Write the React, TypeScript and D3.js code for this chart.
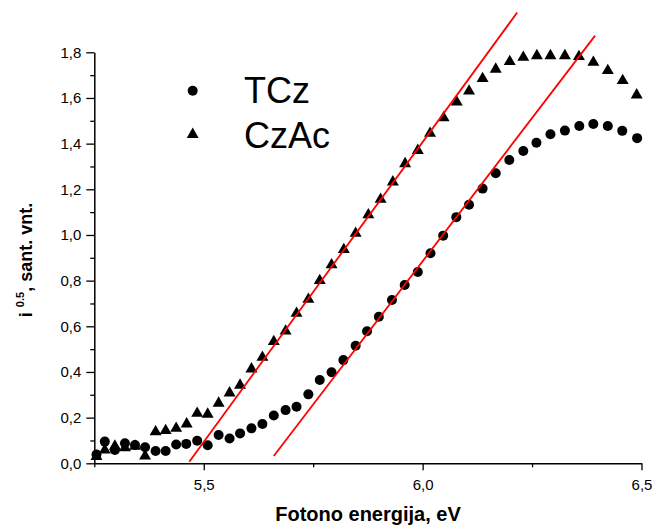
import React, { useEffect, useRef } from "react";
import * as d3 from "d3";

// TCz (circles)
const tczEnergy = [5.255, 5.274, 5.297, 5.32, 5.343, 5.366, 5.39, 5.413, 5.437, 5.46, 5.485, 5.509, 5.534, 5.559, 5.583, 5.609, 5.634, 5.66, 5.687, 5.712, 5.739, 5.765, 5.792, 5.819, 5.847, 5.873, 5.9, 5.93, 5.959, 5.989, 6.018, 6.047, 6.077, 6.106, 6.137, 6.167, 6.198, 6.23, 6.26, 6.292, 6.325, 6.358, 6.39, 6.423, 6.456, 6.49];
const tczValue = [0.038, 0.095, 0.058, 0.088, 0.08, 0.07, 0.054, 0.054, 0.082, 0.085, 0.099, 0.079, 0.124, 0.109, 0.131, 0.153, 0.172, 0.209, 0.233, 0.248, 0.302, 0.365, 0.399, 0.452, 0.515, 0.578, 0.642, 0.715, 0.781, 0.838, 0.92, 0.997, 1.078, 1.132, 1.203, 1.27, 1.328, 1.368, 1.404, 1.441, 1.457, 1.477, 1.486, 1.477, 1.456, 1.424];

// CzAc (triangles)
const czacEnergy = [5.255, 5.274, 5.297, 5.32, 5.343, 5.366, 5.39, 5.413, 5.437, 5.461, 5.485, 5.509, 5.534, 5.559, 5.583, 5.609, 5.634, 5.66, 5.687, 5.712, 5.739, 5.765, 5.792, 5.82, 5.847, 5.876, 5.904, 5.932, 5.96, 5.989, 6.017, 6.048, 6.078, 6.106, 6.137, 6.167, 6.199, 6.23, 6.261, 6.292, 6.325, 6.357, 6.39, 6.423, 6.457, 6.489];
const czacValue = [0.03, 0.058, 0.075, 0.068, 0.075, 0.032, 0.138, 0.143, 0.153, 0.172, 0.219, 0.215, 0.263, 0.308, 0.342, 0.413, 0.464, 0.533, 0.579, 0.657, 0.718, 0.8, 0.869, 0.936, 1.007, 1.088, 1.156, 1.232, 1.312, 1.37, 1.445, 1.513, 1.582, 1.63, 1.685, 1.726, 1.759, 1.778, 1.785, 1.785, 1.785, 1.781, 1.756, 1.72, 1.676, 1.613];

// linear fits (start/end in data units)
const fitStart = [[5.467, 0.007], [5.66, 0.032]];
const fitEnd = [[6.216, 1.974], [6.394, 1.873]];

const legendLabels = ["TCz", "CzAc"];
const yTicks = [0, 0.2, 0.4, 0.6, 0.8, 1.0, 1.2, 1.4, 1.6, 1.8];
const yMinor = [0.1, 0.3, 0.5, 0.7, 0.9, 1.1, 1.3, 1.5, 1.7];
const xTicks = [5.5, 6.0, 6.5];
const xMinor = [5.25, 5.75, 6.25];

const W = 653;
const H = 526;
const FONT = "'Liberation Sans', Arial, sans-serif";

const App = () => {
  const ref = useRef<SVGSVGElement>(null);

  useEffect(() => {
    const svg = d3.select(ref.current);
    svg.selectAll("*").remove();

    const x = d3.scaleLinear().domain([5.25, 6.5]).range([94.3, 641.5]);
    const y = d3.scaleLinear().domain([0, 1.8]).range([463.3, 52.3]);
    const fmt = (d: any) => d3.format(".1f")(d).replace(".", ",");

    // Y axis
    const yAxis = svg.append("g").attr("transform", `translate(${x(5.25)},0)`);
    yAxis.call(d3.axisLeft(y).tickValues(yTicks).tickFormat(fmt).tickSize(8).tickPadding(5).tickSizeOuter(0));
    yAxis.append("g").call(d3.axisLeft(y).tickValues(yMinor).tickFormat(() => "").tickSize(4).tickSizeOuter(0))
      .select(".domain").remove();

    // X axis
    const xAxis = svg.append("g").attr("transform", `translate(0,${y(0)})`);
    xAxis.call(d3.axisBottom(x).tickValues(xTicks).tickFormat(fmt).tickSize(7).tickPadding(9).tickSizeOuter(0));
    xAxis.append("g").call(d3.axisBottom(x).tickValues(xMinor).tickFormat(() => "").tickSize(4).tickSizeOuter(0))
      .select(".domain").remove();

    svg.selectAll(".domain").attr("stroke-width", 1.5);
    svg.selectAll(".tick line").attr("stroke-width", 1.3);
    svg.selectAll(".tick text").attr("font-family", FONT).attr("font-size", 15).attr("fill", "#000");

    // data
    svg.append("g")
      .selectAll("circle")
      .data(tczEnergy.map((e, i) => [e, tczValue[i]]))
      .enter()
      .append("circle")
      .attr("cx", (d) => x(d[0]))
      .attr("cy", (d) => y(d[1]))
      .attr("r", 5)
      .attr("fill", "#000");

    const tri = d3.symbol().type(d3.symbolTriangle).size(62);
    svg.append("g")
      .selectAll("path")
      .data(czacEnergy.map((e, i) => [e, czacValue[i]]))
      .enter()
      .append("path")
      .attr("d", tri)
      .attr("transform", (d) => `translate(${x(d[0])},${y(d[1])})`)
      .attr("fill", "#000");

    // fit lines
    svg.append("g")
      .selectAll("line")
      .data(fitStart.map((s, i) => [s, fitEnd[i]]))
      .enter()
      .append("line")
      .attr("x1", (d) => x(d[0][0]))
      .attr("y1", (d) => y(d[0][1]))
      .attr("x2", (d) => x(d[1][0]))
      .attr("y2", (d) => y(d[1][1]))
      .attr("stroke", "#ff0000")
      .attr("stroke-width", 1.8);

    // legend
    const lg = svg.append("g");
    lg.append("circle").attr("cx", 192.7).attr("cy", 90.7).attr("r", 5).attr("fill", "#000");
    lg.append("path").attr("d", tri).attr("transform", "translate(192.7,134.5)").attr("fill", "#000");
    lg.selectAll("text")
      .data(legendLabels)
      .enter()
      .append("text")
      .attr("x", 244)
      .attr("y", (d, i) => 102.7 + i * 45)
      .attr("font-family", FONT)
      .attr("font-size", 36)
      .text((d) => d);

    // axis titles
    svg.append("text")
      .attr("x", 368)
      .attr("y", 521)
      .attr("text-anchor", "middle")
      .attr("font-family", FONT)
      .attr("font-weight", "bold")
      .attr("font-size", 20)
      .text("Fotono energija, eV");

    const yt = svg.append("text")
      .attr("transform", "translate(32,260) rotate(-90)")
      .attr("text-anchor", "middle")
      .attr("font-family", FONT)
      .attr("font-weight", "bold")
      .attr("font-size", 18);
    yt.append("tspan").text("i ");
    yt.append("tspan").attr("font-size", 11).attr("dy", -8).text("0.5");
    yt.append("tspan").attr("dy", 8).text(", sant. vnt.");
  }, []);

  return (
    <svg ref={ref} width={W} height={H} style={{ position: "absolute", left: 0, top: 0, background: "#fff" }} />
  );
};

export default App;
